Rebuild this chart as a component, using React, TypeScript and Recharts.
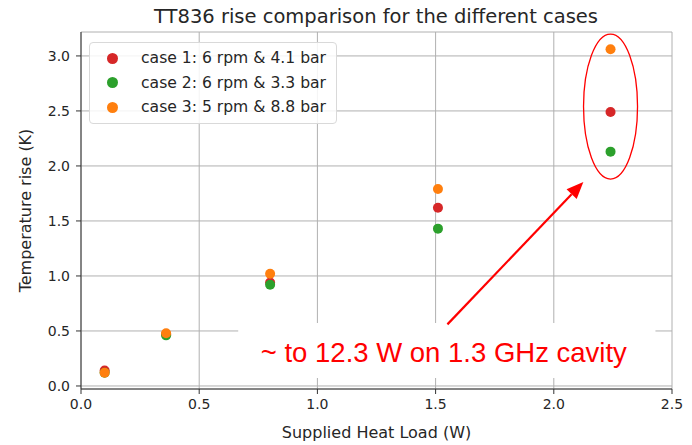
import React from "react";
import {
  ScatterChart,
  Scatter,
  CartesianGrid,
  XAxis,
  YAxis,
  ReferenceArea,
  ReferenceLine,
  ReferenceDot,
} from "recharts";

const heatLoad = [0.1, 0.36, 0.8, 1.51, 2.24];
const case1 = [0.14, 0.47, 0.94, 1.62, 2.49];
const case2 = [0.12, 0.46, 0.92, 1.43, 2.13];
const case3 = [0.12, 0.48, 1.02, 1.79, 3.06];

const xTicks = [0, 0.5, 1.0, 1.5, 2.0, 2.5];
const yTicks = [0, 0.5, 1.0, 1.5, 2.0, 2.5, 3.0];

const seriesNames = [
  "case 1: 6 rpm & 4.1 bar",
  "case 2: 6 rpm & 3.3 bar",
  "case 3: 5 rpm & 8.8 bar",
];
const colors = ["#d62728", "#2ca02c", "#ff7f0e"];

const annotationText = "~ to 12.3 W on 1.3 GHz cavity";

const toPoints = (ys: number[]) => heatLoad.map((x, i) => ({ x, y: ys[i] }));
const series = [toPoints(case1), toPoints(case2), toPoints(case3)];

const FONT = "DejaVu Sans, sans-serif";
const tickStyle = { fontSize: 14, fill: "#262626", fontFamily: FONT };

const Dot = (color: string) => (p: any) =>
  <circle cx={p.cx} cy={p.cy} r={5} fill={color} />;

const LegendBox = () => (
  <div
    style={{
      position: "absolute",
      left: 89,
      top: 42,
      width: 248,
      boxSizing: "border-box",
      border: "1px solid #d9d9d9",
      borderRadius: 4,
      background: "rgba(255,255,255,0.85)",
      padding: "3px 6px 3px 17px",
      fontFamily: FONT,
      fontSize: 15.6,
      color: "#262626",
    }}
  >
    {seriesNames.map((n, i) => (
      <div key={n} style={{ display: "flex", alignItems: "center", height: 24.5, whiteSpace: "nowrap" }}>
        <span
          style={{
            flex: "none",
            width: 11,
            height: 11,
            borderRadius: "50%",
            background: colors[i],
            marginRight: 23,
          }}
        />
        {n}
      </div>
    ))}
  </div>
);

const Arrow = (p: any) => {
  const { x1, y1, x2, y2 } = p;
  const ang = Math.atan2(y2 - y1, x2 - x1);
  const len = 17;
  const half = 7;
  const bx = x2 - len * Math.cos(ang);
  const by = y2 - len * Math.sin(ang);
  const nx = -Math.sin(ang);
  const ny = Math.cos(ang);
  return (
    <g>
      <line x1={x1} y1={y1} x2={bx} y2={by} stroke="#ff0000" strokeWidth={2.2} />
      <polygon
        points={`${x2},${y2} ${bx + nx * half},${by + ny * half} ${bx - nx * half},${by - ny * half}`}
        fill="#ff0000"
      />
    </g>
  );
};

const Ellipse = (p: any) => (
  <ellipse cx={p.cx} cy={p.cy} rx={27} ry={72.5} fill="none" stroke="#ff0000" strokeWidth={1.3} />
);

const NoteLabel = (p: any) => {
  const vb = p.viewBox;
  return (
    <text
      x={vb.x + vb.width / 2 - 3}
      y={vb.y + vb.height / 2 + 12}
      textAnchor="middle"
      fill="#ff0000"
      fontSize={27.5}
      fontFamily="Liberation Sans, Arial, sans-serif"
    >
      {annotationText}
    </text>
  );
};

export default function App() {
  return (
    <div style={{ position: "absolute", left: 0, top: 0, width: 692, height: 445, background: "#fff" }}>
      <div
        style={{
          position: "absolute",
          top: 5,
          width: 692,
          left: 30,
          textAlign: "center",
          fontFamily: FONT,
          fontSize: 19.5,
          color: "#262626",
        }}
      >
        TT836 rise comparison for the different cases
      </div>
      <ScatterChart
        width={692}
        height={445}
        margin={{ top: 32, right: 20, bottom: 0, left: 0 }}
      >
        <CartesianGrid stroke="#b0b0b0" strokeWidth={1} />
        <XAxis
          type="number"
          dataKey="x"
          domain={[0, 2.5]}
          ticks={xTicks}
          tickFormatter={(v: number) => v.toFixed(1)}
          allowDataOverflow
          height={56}
          tickSize={5}
          tickMargin={5}
          tick={tickStyle}
          stroke="#333"
          label={{
            value: "Supplied Heat Load (W)",
            position: "insideBottom",
            offset: 7,
            style: { fontSize: 16, fill: "#262626", fontFamily: FONT },
          }}
        />
        <YAxis
          type="number"
          dataKey="y"
          domain={[-0.0275, 3.2175]}
          ticks={yTicks}
          tickFormatter={(v: number) => v.toFixed(1)}
          allowDataOverflow
          width={81}
          tickSize={5}
          tickMargin={6}
          tick={tickStyle}
          stroke="#333"
          label={{
            value: "Temperature rise (K)",
            angle: -90,
            position: "insideLeft",
            offset: 25,
            style: { fontSize: 16, fill: "#262626", fontFamily: FONT, textAnchor: "middle" },
          }}
        />
        <XAxis xAxisId="top" orientation="top" type="number" domain={[0, 1]} height={0} tick={false} tickLine={false} stroke="#333" />
        <YAxis yAxisId="right" orientation="right" type="number" domain={[0, 1]} width={0} tick={false} tickLine={false} stroke="#333" />
        <ReferenceArea
          x1={0.665}
          x2={2.43}
          y1={0.073}
          y2={0.573}
          fill="#ffffff"
          fillOpacity={1}
          stroke="none"
          ifOverflow="visible"
          label={<NoteLabel />}
        />
        <ReferenceLine
          segment={[
            { x: 1.55, y: 0.56 },
            { x: 2.125, y: 1.855 },
          ]}
          shape={Arrow}
          ifOverflow="visible"
        />
        <ReferenceDot x={2.24} y={2.54} r={1} shape={Ellipse} ifOverflow="visible" />
        {series.map((pts, i) => (
          <Scatter
            key={seriesNames[i]}
            name={seriesNames[i]}
            data={pts}
            fill={colors[i]}
            shape={Dot(colors[i])}
            isAnimationActive={false}
          />
        ))}
      </ScatterChart>
      <LegendBox />
    </div>
  );
}
